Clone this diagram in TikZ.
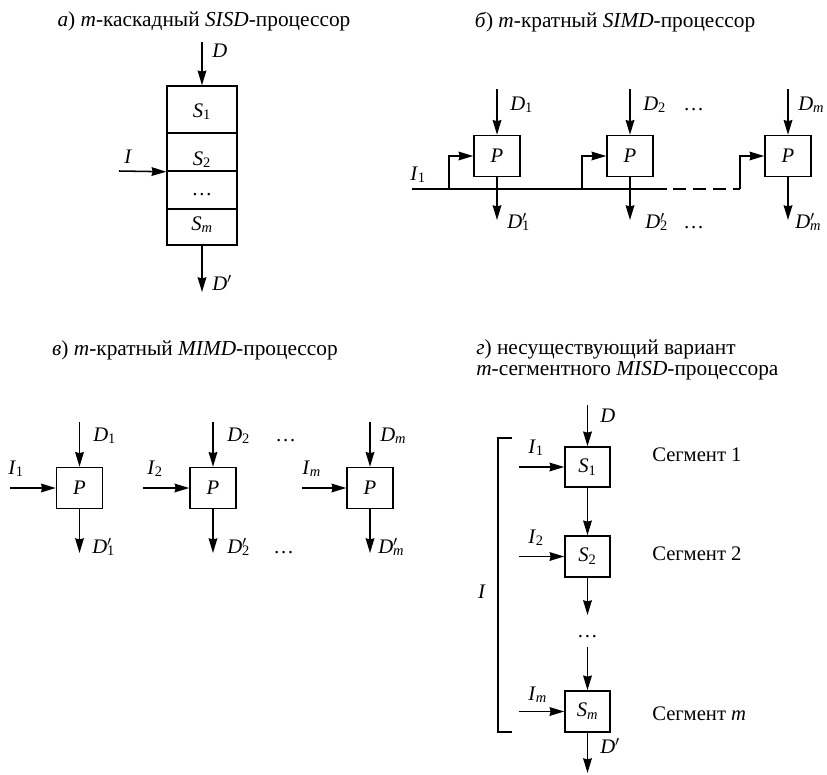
\documentclass[tikz,border=0pt]{standalone}
\usepackage{fontspec}
\setmainfont{Liberation Serif}
\usetikzlibrary{arrows.meta}
\newcommand{\Dp}{\textit{D}\rlap{$'$}}
\begin{document}
\begin{tikzpicture}[x=0.75pt,y=-0.75pt,
  ln/.style={line width=1.15pt},
  arr/.style={line width=1.15pt,-{Stealth[length=11pt,width=6.5pt,inset=0.8pt]}},
  pbox/.style={draw,line width=1.15pt,minimum width=34.5pt,minimum height=30.75pt,inner sep=0pt,font=\fontsize{15.5}{18}\selectfont},
  stackcell/.style={draw,line width=1.15pt,minimum width=52.5pt,inner sep=0pt},
  lbl/.style={anchor=base west,inner sep=0pt,font=\fontsize{15.5}{18}\selectfont},
  clbl/.style={anchor=base,inner sep=0pt,font=\fontsize{15.5}{18}\selectfont},
  ttl/.style={anchor=base,inner sep=0pt,font=\fontsize{16}{19}\selectfont},
  ttlw/.style={anchor=base west,inner sep=0pt,font=\fontsize{16}{19}\selectfont}]
\useasboundingbox (0,0) rectangle (827,774);

% ---------- panel a ----------
\node[ttl] (ta) at (204,27) {\textit{а}) \textit{m}-каскадный \textit{SISD}-процессор};
\node[stackcell,minimum height=35.25pt] (a1) at (202,109.5) {};
\node[stackcell,minimum height=28.5pt] (a2) at (202,152) {};
\node[stackcell,minimum height=28.5pt] (a3) at (202,190) {};
\node[stackcell,minimum height=27pt] (a4) at (202,227) {};
\node[clbl] (la1) at (202,117) {\textit{S}\textsubscript{1}};
\node[clbl] (la2) at (202,165) {\textit{S}\textsubscript{2}};
\node[clbl] (la3) at (202,195) {\dots};
\node[clbl] (la4) at (202,230) {\textit{S}\textsubscript{\textit{m}}};
\coordinate (aDin) at (202,42);
\draw[arr] (aDin) -- (a1.north);
\node[lbl] (laD) at (212,58) {\textit{D}};
\coordinate (aIin) at (119,171);
\draw[arr] (aIin) -- (a2.south west);
\node[lbl] (laI) at (124,163) {\textit{I}};
\coordinate (aDout) at (202,292);
\draw[arr] (a4.south) -- (aDout);
\node[lbl] (laDo) at (212,290) {\textit{D}$'$};

% ---------- panel b ----------
\node[ttl] (tb) at (615,28) {\textit{б}) \textit{m}-кратный \textit{SIMD}-процессор};
\node[pbox] (b1) at (497,156) {\textit{P}};
\node[pbox] (b2) at (630,156) {\textit{P}};
\node[pbox] (bm) at (788,156) {\textit{P}};
\coordinate (bi1) at (497,89);
\coordinate (bi2) at (630,89);
\coordinate (bim) at (788,89);
\draw[arr] (bi1) -- (b1.north);
\draw[arr] (bi2) -- (b2.north);
\draw[arr] (bim) -- (bm.north);
\node[lbl] (lbD1) at (510,110) {\textit{D}\textsubscript{1}};
\node[lbl] (lbD2) at (643,110) {\textit{D}\textsubscript{2}};
\node[lbl] (lbdt) at (683,110) {\dots};
\node[lbl] (lbDm) at (798,110) {\textit{D}\textsubscript{\textit{m}}};
\coordinate (bs) at (412,189);
\coordinate (bj1) at (449,189);
\coordinate (bj2) at (582,189);
\coordinate (bd1) at (667,189);
\coordinate (bd2) at (673,189);
\coordinate (bd3) at (727,189);
\coordinate (bd4) at (733,189);
\coordinate (bjm) at (740,189);
\draw[ln] (bs) -- (bd1);
\draw[ln,dash pattern=on 9.75pt off 5.25pt] (bd2) -- (bd3);
\draw[ln] (bd4) -- (bjm);
\draw[arr] (bj1) |- (b1.west);
\draw[arr] (bj2) |- (b2.west);
\draw[arr] (bjm) |- (bm.west);
\node[lbl] (lbI) at (410,180) {\textit{I}\textsubscript{1}};
\coordinate (bo1) at (497,220);
\coordinate (bo2) at (630,220);
\coordinate (bom) at (788,220);
\draw[arr] (b1.south) -- (bo1);
\draw[arr] (b2.south) -- (bo2);
\draw[arr] (bm.south) -- (bom);
\node[lbl] (lbO1) at (507,228) {\Dp\textsubscript{1}};
\node[lbl] (lbO2) at (645,228) {\Dp\textsubscript{2}};
\node[lbl] (lbOd) at (683,228) {\dots};
\node[lbl] (lbOm) at (795,228) {\Dp\textsubscript{\textit{m}}};

% ---------- panel c ----------
\node[ttl] (tc) at (195,355) {\textit{в}) \textit{m}-кратный \textit{MIMD}-процессор};
\node[pbox] (c1) at (79.5,488) {\textit{P}};
\node[pbox] (c2) at (213,488) {\textit{P}};
\node[pbox] (cm) at (370,488) {\textit{P}};
\coordinate (ci1) at (79.5,422);
\coordinate (ci2) at (213,422);
\coordinate (cim) at (370,422);
\draw[arr] (ci1) -- (c1.north);
\draw[arr] (ci2) -- (c2.north);
\draw[arr] (cim) -- (cm.north);
\node[lbl] (lcD1) at (93,441) {\textit{D}\textsubscript{1}};
\node[lbl] (lcD2) at (227,441) {\textit{D}\textsubscript{2}};
\node[lbl] (lcdt) at (275,441) {\dots};
\node[lbl] (lcDm) at (380,441) {\textit{D}\textsubscript{\textit{m}}};
\coordinate (cI1) at (10,488);
\coordinate (cI2) at (143,488);
\coordinate (cIm) at (302,488);
\draw[arr] (cI1) -- (c1.west);
\draw[arr] (cI2) -- (c2.west);
\draw[arr] (cIm) -- (cm.west);
\node[lbl] (lcI1) at (8,474) {\textit{I}\textsubscript{1}};
\node[lbl] (lcI2) at (147,474) {\textit{I}\textsubscript{2}};
\node[lbl] (lcIm) at (302,474) {\textit{I}\textsubscript{\textit{m}}};
\coordinate (co1) at (79.5,553);
\coordinate (co2) at (213,553);
\coordinate (com) at (370,553);
\draw[arr] (c1.south) -- (co1);
\draw[arr] (c2.south) -- (co2);
\draw[arr] (cm.south) -- (com);
\node[lbl] (lcO1) at (92,553) {\Dp\textsubscript{1}};
\node[lbl] (lcO2) at (227,553) {\Dp\textsubscript{2}};
\node[lbl] (lcOd) at (273,553) {\dots};
\node[lbl] (lcOm) at (378,553) {\Dp\textsubscript{\textit{m}}};

% ---------- panel d ----------
\node[ttlw] (td1) at (476,354) {\textit{г}) несуществующий вариант};
\node[ttlw] (td2) at (476,375) {\textit{m}-сегментного \textit{MISD}-процессора};
\node[pbox,minimum width=33.75pt,minimum height=30pt] (d1) at (587.5,467) {\textit{S}\textsubscript{1}};
\node[pbox,minimum width=33.75pt] (d2) at (587.5,556.5) {\textit{S}\textsubscript{2}};
\node[pbox,minimum width=33.75pt] (dm) at (587.5,711.5) {\textit{S}\textsubscript{\textit{m}}};
\coordinate (dDin) at (587.5,405);
\draw[arr] (dDin) -- (d1.north);
\node[lbl] (ldD) at (600,422) {\textit{D}};
\draw[arr] (d1.south) -- (d2.north);
\coordinate (dc1) at (587.5,615);
\draw[arr] (d2.south) -- (dc1);
\node[clbl] (ldots) at (587.5,637) {\dots};
\coordinate (dc2) at (587.5,647);
\draw[arr] (dc2) -- (dm.north);
\coordinate (dDout) at (587.5,773);
\draw[arr] (dm.south) -- (dDout);
\node[lbl] (ldDo) at (600,753) {\textit{D}$'$};
\coordinate (dI1) at (519,467);
\coordinate (dI2) at (519,556.5);
\coordinate (dIm) at (519,711.5);
\draw[arr] (dI1) -- (d1.west);
\draw[arr] (dI2) -- (d2.west);
\draw[arr] (dIm) -- (dm.west);
\node[lbl] (ldI1) at (528,453) {\textit{I}\textsubscript{1}};
\node[lbl] (ldI2) at (528,543) {\textit{I}\textsubscript{2}};
\node[lbl] (ldIm) at (528,700) {\textit{I}\textsubscript{\textit{m}}};
\coordinate (br1) at (512,438);
\coordinate (br2) at (498,438);
\coordinate (br3) at (498,732);
\coordinate (br4) at (512,732);
\draw[ln] (br1) -- (br2) -- (br3) -- (br4);
\node[clbl] (ldI) at (482,598) {\textit{I}};
\node[lbl] (lseg1) at (652,461) {Сегмент 1};
\node[lbl] (lseg2) at (652,560) {Сегмент 2};
\node[lbl] (lsegm) at (652,720) {Сегмент \textit{m}};
\end{tikzpicture}
\end{document}
